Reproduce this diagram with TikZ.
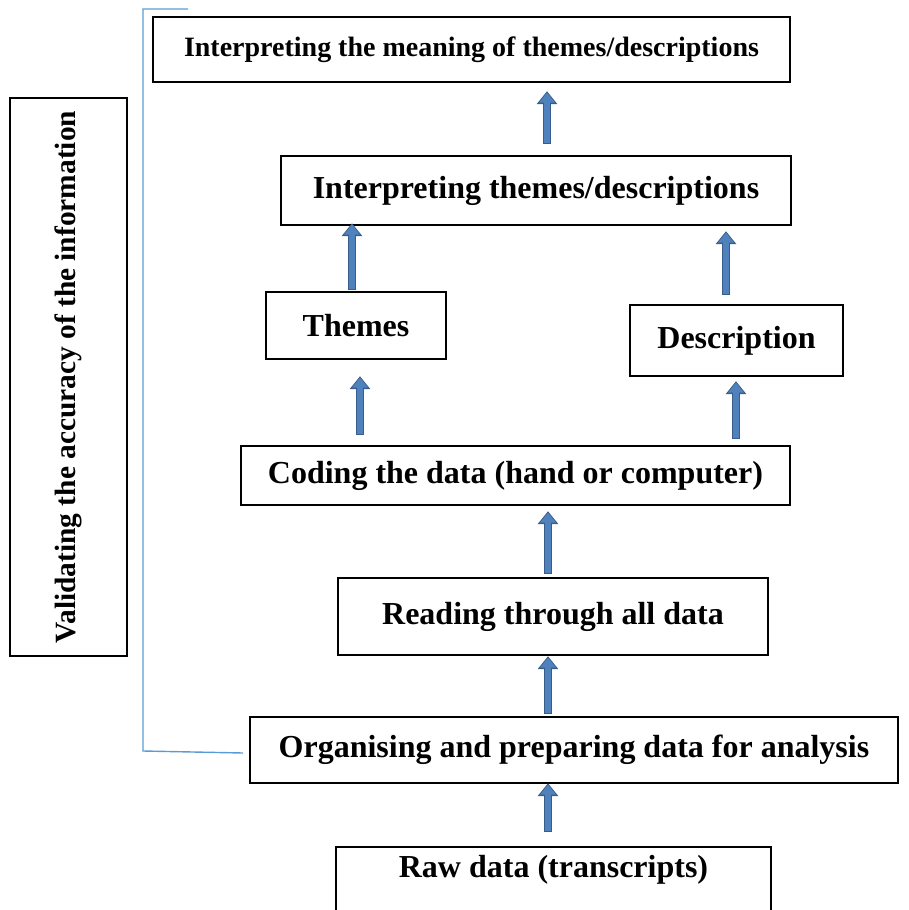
\documentclass[tikz,border=0pt]{standalone}
\usepackage{fontspec}
\setmainfont{Liberation Serif}
\usetikzlibrary{arrows.meta,calc}
\definecolor{abl}{HTML}{4F81BD}
\definecolor{abd}{HTML}{385D8A}
\definecolor{brk}{HTML}{5B9BD5}
\begin{document}
\begin{tikzpicture}[x=1pt,y=-1pt,
  stepbox/.style={draw=black, line width=2.4pt, inner sep=0pt, align=center,
    font=\fontsize{32}{38}\selectfont\bfseries},
  sidebox/.style={draw=black, line width=1.2pt, inner sep=0pt,
    font=\fontsize{29.4}{35}\selectfont\bfseries},
  barrow/.style={line width=5.5pt, color=abl, -{Triangle[width=15pt,length=10pt]},
    shorten >=1.3pt, shorten <=1pt,
    preaction={draw=abd, line width=8.5pt, -{Triangle[width=20pt,length=13pt]},
      shorten >=0pt, shorten <=0pt}},
  bracket/.style={draw=brk, line width=1.4pt}
]
\useasboundingbox (0,0) rectangle (909,910);

% boxes
\node[stepbox, minimum width=637, minimum height=65, font=\fontsize{28}{34}\selectfont\bfseries] (meaning) at (471.5,49.5) {Interpreting the meaning of themes/descriptions};
\node[stepbox, minimum width=510, minimum height=69] (interp) at (536,190.5) {Interpreting themes/descriptions};
\node[stepbox, minimum width=180, minimum height=67] (themes) at (356,325.5) {Themes};
\node[stepbox, minimum width=213, minimum height=71] (desc) at (736.5,340.5) {Description};
\node[stepbox, minimum width=549, minimum height=59] (coding) at (515.5,475.5) {Coding the data (hand or computer)};
\node[stepbox, minimum width=430, minimum height=77] (reading) at (553,616.5) {Reading through all data};
\node[stepbox, minimum width=648, minimum height=66] (organ) at (574,750) {Organising and preparing data for analysis};
\node[stepbox, anchor=north, minimum width=435, text height=30pt, text depth=70pt] (raw) at (553.5,846) {Raw data (transcripts)};

% side box
\node[sidebox, rotate=90, minimum width=558, minimum height=117] (valid) at (68.5,377) {Validating the accuracy of the information};

% bracket
\coordinate (bt) at (188,9);
\coordinate (bb) at (243,753);
\draw[bracket] (bt) -- (143,9) -- (143,751) -- (bb);

% arrow x positions
\coordinate (xa) at (547,0);
\coordinate (xb) at (352,0);
\coordinate (xc) at (726,0);
\coordinate (xd) at (360,0);
\coordinate (xe) at (736,0);
\coordinate (xf) at (548,0);

\draw[barrow] ($(interp.north -| xa)+(0,-11)$) -- ($(meaning.south -| xa)+(0,8)$);
\draw[barrow] ($(themes.north -| xb)+(0,-1)$) -- ($(interp.south -| xb)+(0,-3)$);
\draw[barrow] ($(desc.north -| xc)+(0,-9)$) -- ($(interp.south -| xc)+(0,5)$);
\draw[barrow] ($(coding.north -| xd)+(0,-10)$) -- ($(themes.south -| xd)+(0,16)$);
\draw[barrow] ($(coding.north -| xe)+(0,-6)$) -- ($(desc.south -| xe)+(0,4)$);
\draw[barrow] ($(reading.north -| xf)+(0,-3)$) -- ($(coding.south -| xf)+(0,5)$);
\draw[barrow] ($(organ.north -| xf)+(0,-2)$) -- ($(reading.south -| xf)+(0,0)$);
\draw[barrow] ($(raw.north -| xf)+(0,-14)$) -- ($(organ.south -| xf)+(0,-1)$);
\end{tikzpicture}
\end{document}
